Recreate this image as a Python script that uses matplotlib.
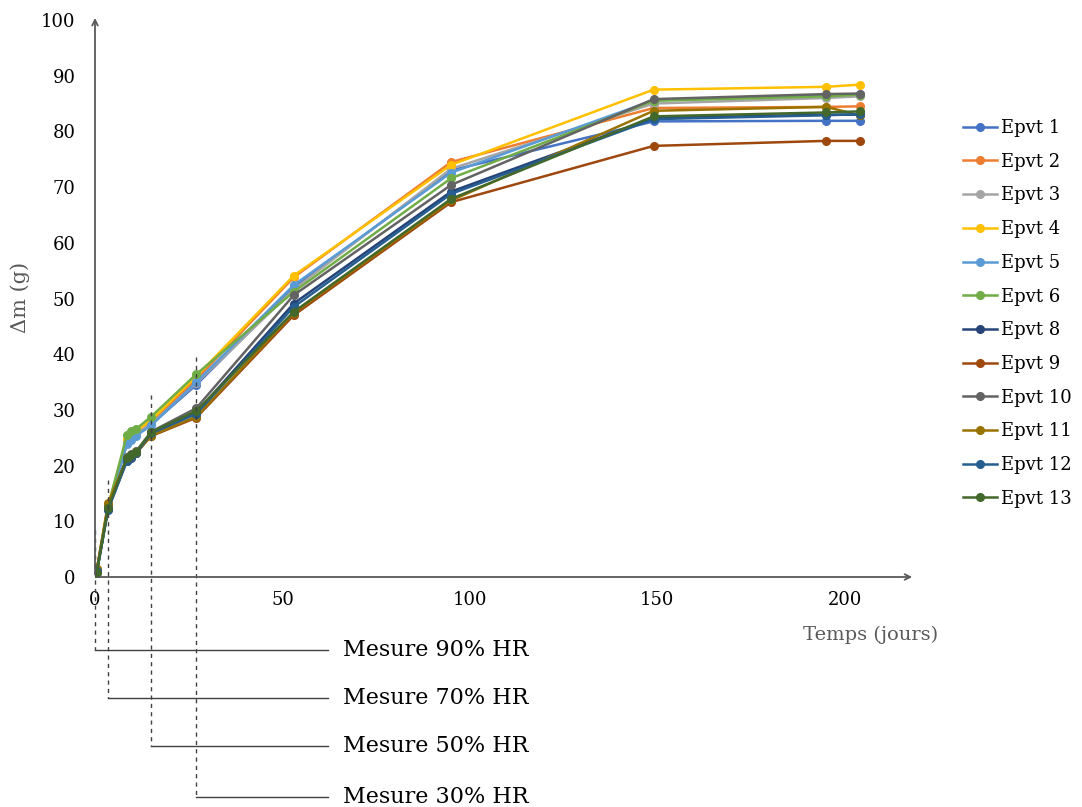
import matplotlib.pyplot as plt

plt.rcParams["font.family"] = ["DejaVu Serif"]

days = [0, 0.5, 3.5, 8.5, 9.5, 11, 15, 27, 53, 95, 149, 195, 204]

epvt1 = [0, 1.0, 12.5, 24.0, 25.0, 25.8, 27.4, 34.5, 52.0, 73.0, 81.8, 81.9, 81.9]
epvt2 = [0, 1.5, 12.4, 24.5, 25.5, 26.0, 27.8, 35.5, 53.8, 74.5, 84.2, 84.4, 84.5]
epvt3 = [0, 1.2, 12.6, 24.2, 25.2, 25.9, 27.5, 34.8, 51.6, 73.3, 85.0, 86.0, 86.3]
epvt4 = [0, 1.3, 12.8, 24.8, 25.6, 26.2, 28.2, 36.0, 54.1, 74.0, 87.5, 88.0, 88.4]
epvt5 = [0, 1.1, 12.3, 23.8, 24.6, 25.4, 27.2, 35.0, 52.4, 72.6, 85.6, 86.5, 86.7]
epvt6 = [0, 1.2, 12.7, 25.5, 26.2, 26.6, 28.8, 36.4, 51.2, 71.6, 85.5, 86.3, 86.6]
epvt8 = [0, 1.0, 12.2, 20.8, 21.4, 22.2, 25.6, 29.5, 49.1, 69.2, 82.4, 83.0, 83.0]
epvt9 = [0, 1.3, 12.6, 21.0, 21.6, 22.3, 25.3, 28.6, 47.0, 67.3, 77.4, 78.3, 78.3]
epvt10 = [0, 1.1, 12.9, 21.5, 22.0, 22.6, 26.1, 30.3, 50.6, 70.4, 85.8, 86.7, 86.8]
epvt11 = [0, 1.4, 13.3, 21.2, 21.8, 22.4, 25.4, 28.8, 47.4, 67.6, 83.7, 84.4, 82.9]
epvt12 = [0, 1.0, 12.1, 20.9, 21.5, 22.3, 25.8, 29.3, 48.5, 68.8, 82.2, 82.9, 83.1]
epvt13 = [0, 0.8, 12.4, 21.3, 21.9, 22.5, 26.0, 29.8, 47.6, 67.9, 82.7, 83.4, 83.6]

labels = ["Epvt 1", "Epvt 2", "Epvt 3", "Epvt 4", "Epvt 5", "Epvt 6",
          "Epvt 8", "Epvt 9", "Epvt 10", "Epvt 11", "Epvt 12", "Epvt 13"]
series = [epvt1, epvt2, epvt3, epvt4, epvt5, epvt6,
          epvt8, epvt9, epvt10, epvt11, epvt12, epvt13]
colors = ["#4472C4", "#ED7D31", "#A5A5A5", "#FFC000", "#5B9BD5", "#70AD47",
          "#264478", "#9E480E", "#636363", "#997300", "#255E91", "#43682B"]

# measurement changes (humidity steps)
measure_days = [0, 3.5, 15, 27]
measure_tops = [8.4, 17.4, 32.7, 39.5]
measure_labels = ["Mesure 90% HR", "Mesure 70% HR", "Mesure 50% HR", "Mesure 30% HR"]

fig = plt.figure(figsize=(10.82, 8.07), dpi=100)
ax = fig.add_axes([95 / 1082, 1 - 577 / 807, 820 / 1082, 559 / 807])

for s, lab, c in zip(series, labels, colors):
    ax.plot(days, s, color=c, linewidth=1.8, marker="o", markersize=5.5, label=lab)

ax.set_xlim(0, 218.7)
ax.set_ylim(0, 100.36)
ax.set_xticks([0, 50, 100, 150, 200])
ax.set_yticks(range(0, 101, 10))
ax.tick_params(length=0, labelsize=13, colors="black")
ax.tick_params(axis="y", pad=14)
ax.tick_params(axis="x", pad=10)

for sp in ax.spines.values():
    sp.set_visible(False)

axis_col = "#595959"
ax.annotate("", xy=(1, 0), xytext=(0, 0), xycoords="axes fraction",
            arrowprops=dict(arrowstyle="->", color=axis_col, lw=1.3))
ax.annotate("", xy=(0, 1.005), xytext=(0, 0), xycoords="axes fraction",
            arrowprops=dict(arrowstyle="->", color=axis_col, lw=1.3))

ax.set_ylabel("Δm (g)", fontsize=15, color=axis_col, labelpad=8)
fig.text(938 / 1082, 1 - 635 / 807, "Temps (jours)", fontsize=14,
         color=axis_col, ha="right", va="center")

ybot = [-13.1, -21.7, -30.3, -39.5]
for d, top, yb, lab in zip(measure_days, measure_tops, ybot, measure_labels):
    ax.plot([d, d], [top, yb], color="#404040", linestyle=(0, (3, 3)),
            linewidth=1, clip_on=False)
    ax.plot([d, 62.1], [yb, yb], color="#404040", linewidth=1, clip_on=False)
    ax.text(66.1, yb, lab, fontsize=16, va="center", ha="left")

fig.legend(loc="upper left", bbox_to_anchor=(963 / 1082, 1 - 119 / 807),
           frameon=False, fontsize=13, handlelength=1.9, handletextpad=0.2,
           labelspacing=0.87, borderaxespad=0, borderpad=0)

plt.savefig("out.png", dpi=100)
